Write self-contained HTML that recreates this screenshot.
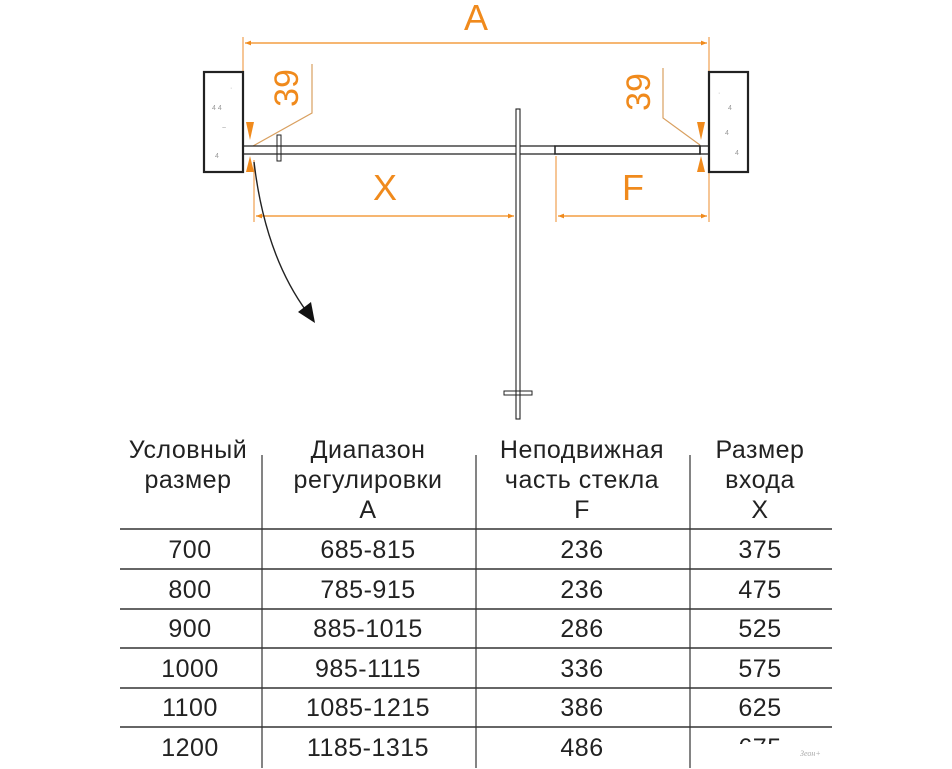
<!DOCTYPE html>
<html><head><meta charset="utf-8"><style>
body{margin:0;width:952px;height:768px;background:#fff;overflow:hidden;position:relative;font-family:"Liberation Sans","Noto Sans CJK SC",sans-serif;}
.t{position:absolute;color:#222;font-size:25px;letter-spacing:0.5px;text-align:center;white-space:nowrap;transform:translateX(-50%);}
</style></head><body>
<svg width="952" height="768" style="position:absolute;left:0;top:0" xmlns="http://www.w3.org/2000/svg">
<defs>
<marker id="ar" viewBox="0 0 10 10" refX="10" refY="5" markerWidth="12" markerHeight="6" orient="auto-start-reverse" markerUnits="userSpaceOnUse"><path d="M0,1 L10,5 L0,9 z" fill="#f08a1c"/></marker>
</defs>
<g stroke="#f0a050" stroke-width="1.2" fill="none">
<line x1="243" y1="37" x2="243" y2="150"/>
<line x1="709" y1="37" x2="709" y2="150"/>
<line x1="245" y1="43" x2="707" y2="43" marker-start="url(#ar)" marker-end="url(#ar)" stroke="#f08a1c"/>
<line x1="254" y1="160" x2="254" y2="222"/>
<line x1="556" y1="156" x2="556" y2="222"/>
<line x1="709" y1="156" x2="709" y2="222"/>
<line x1="256" y1="216" x2="514" y2="216" marker-start="url(#ar)" marker-end="url(#ar)" stroke="#f08a1c"/>
<line x1="558" y1="216" x2="707" y2="216" marker-start="url(#ar)" marker-end="url(#ar)" stroke="#f08a1c"/>
<polyline points="312,64 312,113 253,146" stroke="#d9a060"/>
<polyline points="663,68 663,118 700,145" stroke="#d9a060"/>
</g>
<g fill="#f08a1c">
<path d="M246,122 L254,122 L250,140 z"/><path d="M246,172 L254,172 L250,156 z"/>
<path d="M697,122 L705,122 L701,140 z"/><path d="M697,172 L705,172 L701,156 z"/>
</g>
<g stroke="#222" fill="none">
<rect x="204" y="72" width="39" height="100" stroke-width="2.2"/>
<rect x="709" y="72" width="39" height="100" stroke-width="2.2"/>
<line x1="243" y1="146" x2="555" y2="146" stroke-width="1.3"/>
<line x1="243" y1="154" x2="555" y2="154" stroke-width="1.3"/>
<rect x="555" y="146" width="145" height="8" stroke-width="1.5"/>
<rect x="700" y="146" width="9" height="8" stroke-width="1.3"/>
<rect x="277" y="135" width="4" height="26" stroke-width="1"/>
<rect x="516" y="109" width="4" height="310" stroke-width="1.1" fill="#fff"/>
<rect x="504" y="391" width="28" height="4" stroke-width="1"/>
<path d="M254,162 Q265,255 307,312" stroke-width="1.4"/>
</g>
<path d="M298,312 L315,323 L311,302 z" fill="#111"/>
<g fill="#999" font-size="7" font-family="Liberation Sans">
<text x="212" y="110">4 4</text><text x="222" y="130">~</text><text x="215" y="158">4</text><text x="230" y="90">·</text>
<text x="728" y="110">4</text><text x="725" y="135">4</text><text x="735" y="155">4</text><text x="718" y="95">·</text>
</g>
<g fill="#f08a1c" font-family="Liberation Sans" font-size="36">
<text x="476" y="30" text-anchor="middle">A</text>
<text x="385" y="200" text-anchor="middle">X</text>
<text x="633" y="200" text-anchor="middle">F</text>
<text transform="translate(298,88) rotate(-90)" text-anchor="middle" font-size="34">39</text>
<text transform="translate(650,92) rotate(-90)" text-anchor="middle" font-size="34">39</text>
</g>
<g stroke="#333" stroke-width="1.5">
<line x1="120" y1="529" x2="832" y2="529"/>
<line x1="120" y1="569" x2="832" y2="569"/>
<line x1="120" y1="609" x2="832" y2="609"/>
<line x1="120" y1="648" x2="832" y2="648"/>
<line x1="120" y1="688" x2="832" y2="688"/>
<line x1="120" y1="727" x2="832" y2="727"/>
<line x1="262" y1="455" x2="262" y2="768" stroke-width="1.2"/>
<line x1="476" y1="455" x2="476" y2="768" stroke-width="1.2"/>
<line x1="690" y1="455" x2="690" y2="768" stroke-width="1.2"/>
</g>
<text x="800" y="756" font-size="8" fill="#aaa" font-style="italic" font-family="Liberation Serif">Зеон+</text>
</svg>
<div class="t" style="left:188px;top:435px;line-height:30px">Условный<br>размер</div>
<div class="t" style="left:368px;top:435px;line-height:30px">Диапазон<br>регулировки<br>A</div>
<div class="t" style="left:582px;top:435px;line-height:30px">Неподвижная<br>часть стекла<br>F</div>
<div class="t" style="left:760px;top:435px;line-height:30px">Размер<br>входа<br>X</div>
<div class="t" style="left:190px;top:531px;line-height:39.6px">700<br>800<br>900<br>1000<br>1100<br>1200</div>
<div class="t" style="left:368px;top:531px;line-height:39.6px">685-815<br>785-915<br>885-1015<br>985-1115<br>1085-1215<br>1185-1315</div>
<div class="t" style="left:582px;top:531px;line-height:39.6px">236<br>236<br>286<br>336<br>386<br>486</div>
<div class="t" style="left:760px;top:531px;line-height:39.6px;height:213px;overflow:hidden">375<br>475<br>525<br>575<br>625<br>675</div>
</body></html>
